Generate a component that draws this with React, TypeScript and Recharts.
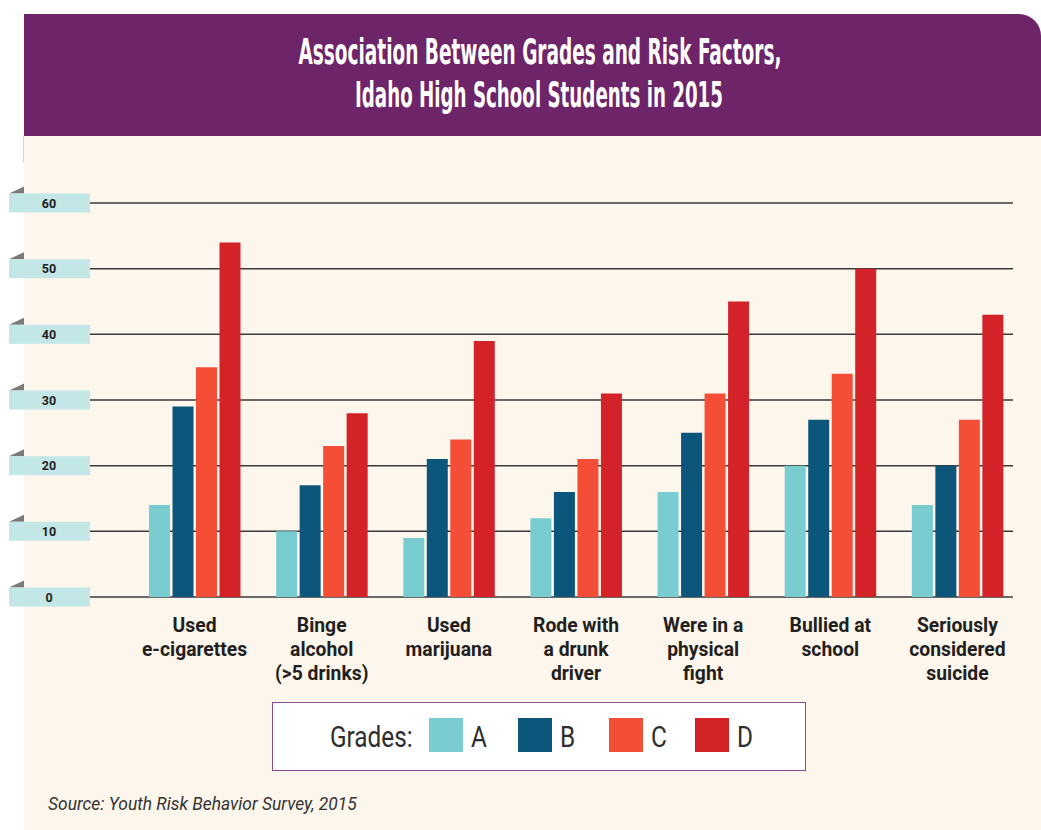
import { BarChart, Bar, XAxis, YAxis, CartesianGrid, Legend } from 'recharts'

// ── data ──
const categories = [
  'Used\ne-cigarettes',
  'Binge\nalcohol\n(>5 drinks)',
  'Used\nmarijuana',
  'Rode with\na drunk\ndriver',
  'Were in a\nphysical\nfight',
  'Bullied at\nschool',
  'Seriously\nconsidered\nsuicide',
]
const gradeA = [14, 10, 9, 12, 16, 20, 14]
const gradeB = [29, 17, 21, 16, 25, 27, 20]
const gradeC = [35, 23, 24, 21, 31, 34, 27]
const gradeD = [54, 28, 39, 31, 45, 50, 43]
const yTicks = [0, 10, 20, 30, 40, 50, 60]

const series = [
  { key: 'A', label: 'A', color: '#79cdd1' },
  { key: 'B', label: 'B', color: '#0d567b' },
  { key: 'C', label: 'C', color: '#f44e37' },
  { key: 'D', label: 'D', color: '#d42229' },
]

const data = categories.map((name, i) => ({
  name,
  A: gradeA[i],
  B: gradeB[i],
  C: gradeC[i],
  D: gradeD[i],
}))

const TITLE_FONT = '"DejaVu Sans Condensed", "Roboto", sans-serif'

// cyan tab with the little grey fold at the top-left
function YTick({ y, payload }: any) {
  return (
    <g>
      <polygon points={`9,${y - 9.5} 24,${y - 16.5} 24,${y - 9.5}`} fill="#7a7a7a" />
      <rect x={9} y={y - 9.5} width={81} height={19} fill="#c3e6e7" />
      <text
        x={49}
        y={y}
        dy={4.5}
        textAnchor="middle"
        fontSize={12.5}
        fontWeight={700}
        fontFamily="Roboto, sans-serif"
        fill="#222"
      >
        {payload.value}
      </text>
    </g>
  )
}

// no condensed face installed, so squeeze Roboto Bold a little
function XTick({ x, y, payload }: any) {
  const lines = String(payload.value).split('\n')
  return (
    <g transform={`translate(${x},${y + 35})`}>
      <text
        transform="scale(0.92,1)"
        textAnchor="middle"
        fontSize={21}
        fontWeight={700}
        fontFamily="Roboto, sans-serif"
        fill="#231f20"
      >
        {lines.map((l, i) => (
          <tspan key={i} x={0} dy={i === 0 ? 0 : 24}>
            {l}
          </tspan>
        ))}
      </text>
    </g>
  )
}

const legendText = {
  position: 'absolute' as const,
  top: 0,
  height: '100%',
  display: 'flex',
  alignItems: 'center',
  transform: 'scaleX(0.84)',
  transformOrigin: 'left center',
  whiteSpace: 'nowrap' as const,
}
const swatchLeft = [156, 245, 336, 422]

function GradesLegend() {
  return (
    <div
      style={{
        position: 'relative',
        width: 534,
        height: 69,
        boxSizing: 'border-box',
        border: '1.5px solid #8b4a8a',
        background: '#fff',
        fontFamily: 'Roboto, sans-serif',
        fontSize: 29,
        color: '#2e2e2e',
      }}
    >
      <span style={{ ...legendText, left: 57 }}>Grades:</span>
      {series.map((s, i) => (
        <span key={s.key}>
          <span
            style={{
              position: 'absolute',
              left: swatchLeft[i],
              top: 15,
              width: 34,
              height: 34,
              background: s.color,
            }}
          />
          <span style={{ ...legendText, left: swatchLeft[i] + 42 }}>{s.label}</span>
        </span>
      ))}
    </div>
  )
}

export default function App() {
  return (
    <div style={{ position: 'relative', width: 1041, height: 830, background: '#fff', overflow: 'hidden' }}>
      <style>{'body{margin:0}'}</style>
      <div
        style={{
          position: 'absolute',
          left: 24,
          top: 136,
          width: 1017,
          height: 694,
          background: '#fdf6ec',
        }}
      />
      <div style={{ position: 'absolute', left: 23, top: 136, width: 1, height: 27, background: '#d9d4d6' }} />
      <div
        style={{
          position: 'absolute',
          left: 24,
          top: 14,
          width: 1017,
          height: 122,
          background: '#6e2468',
          borderTopRightRadius: 22,
        }}
      />
      <svg width={1041} height={136} style={{ position: 'absolute', left: 0, top: 0 }}>
        <text
          x={540}
          y={64}
          textAnchor="middle"
          fontSize={35}
          fontWeight={700}
          fontFamily={TITLE_FONT}
          fill="#fff"
          textLength={483}
          lengthAdjust="spacingAndGlyphs"
        >
          Association Between Grades and Risk Factors,
        </text>
        <text
          x={539}
          y={107}
          textAnchor="middle"
          fontSize={35}
          fontWeight={700}
          fontFamily={TITLE_FONT}
          fill="#fff"
          textLength={368}
          lengthAdjust="spacingAndGlyphs"
        >
          Idaho High School Students in 2015
        </text>
      </svg>

      <div style={{ position: 'absolute', left: 0, top: 0 }}>
        <BarChart
          width={1041}
          height={830}
          data={data}
          margin={{ top: 203, right: 28, bottom: 133, left: 9 }}
          barSize={21}
          barGap={2.5}
        >
          <CartesianGrid horizontal vertical={false} stroke="#3a3a3a" strokeWidth={1.5} />
          <XAxis
            dataKey="name"
            interval={0}
            axisLine={false}
            tickLine={false}
            tickSize={0}
            tickMargin={0}
            height={100}
            padding={{ left: 41, right: -8 }}
            tick={<XTick />}
          />
          <YAxis
            domain={[0, 60]}
            ticks={yTicks}
            width={81}
            axisLine={false}
            tickLine={false}
            tick={<YTick />}
          />
          {series.map((s) => (
            <Bar key={s.key} dataKey={s.key} fill={s.color} isAnimationActive={false} />
          ))}
          <Legend
            layout="horizontal"
            verticalAlign="middle"
            align="center"
            content={() => <GradesLegend />}
            wrapperStyle={{ left: 272, top: 702, width: 534, height: 69 }}
          />
        </BarChart>
      </div>

      <div
        style={{
          position: 'absolute',
          left: 48,
          top: 794,
          fontFamily: 'Roboto, sans-serif',
          fontStyle: 'italic',
          fontSize: 17.4,
          color: '#333',
        }}
      >
        Source: Youth Risk Behavior Survey, 2015
      </div>
    </div>
  )
}
